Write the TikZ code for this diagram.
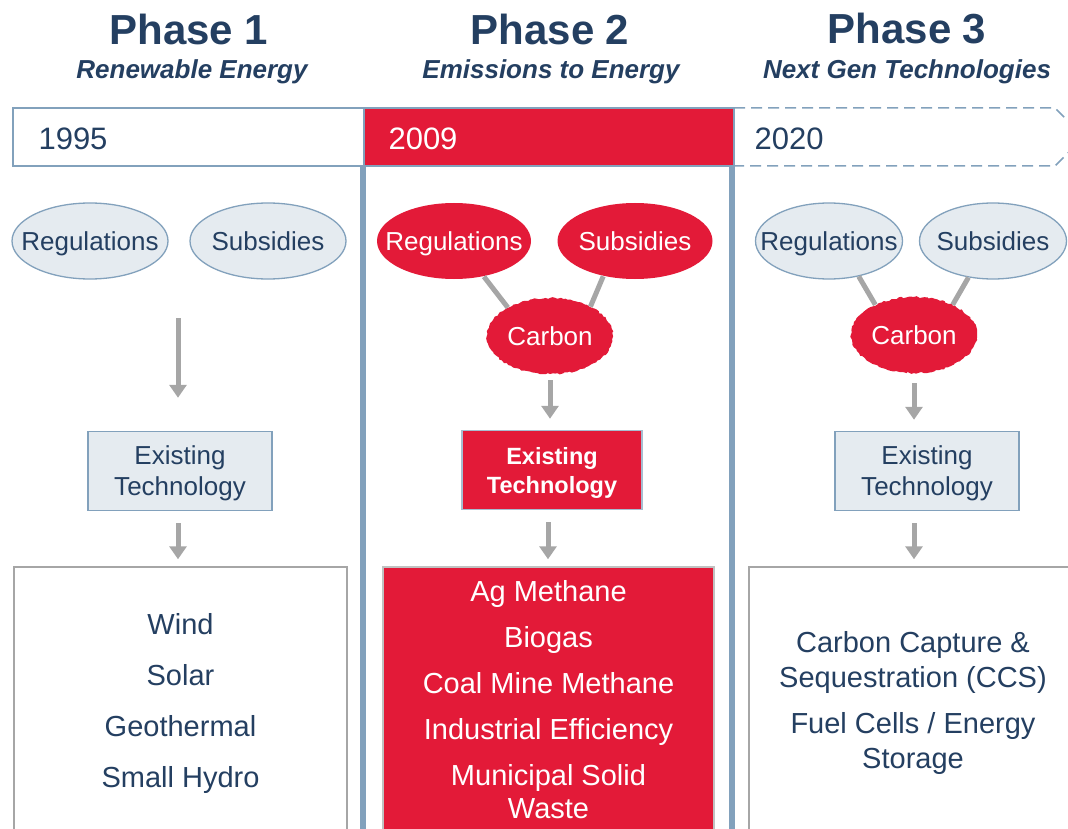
\documentclass[tikz,border=0pt]{standalone}
\usepackage{fontspec}
\setmainfont{Liberation Sans}
\usetikzlibrary{shapes.geometric,arrows.meta,decorations.pathmorphing}
\definecolor{navy}{RGB}{36,63,97}
\definecolor{pred}{RGB}{227,26,56}
\definecolor{steel}{RGB}{130,161,188}
\definecolor{pale}{RGB}{229,235,240}
\definecolor{agray}{RGB}{166,166,166}
\begin{document}
\begin{tikzpicture}[x=1pt,y=-1pt,
  oval/.style={ellipse,draw=steel,line width=1.3pt,fill=pale,text=navy,minimum width=156pt,minimum height=76pt,inner xsep=-20pt,inner ysep=0pt,text height=19pt,text depth=0pt,font=\fontsize{26}{30}\selectfont},
  roval/.style={oval,draw=none,fill=pred,text=white},
  carb/.style={ellipse,fill=pred,text=white,minimum width=126pt,minimum height=76pt,inner sep=0pt,text height=19pt,text depth=0pt,decorate,decoration={random steps,segment length=2.5pt,amplitude=0.9pt},font=\fontsize{26}{30}\selectfont},
  techbox/.style={rectangle,draw=steel,line width=1.5pt,fill=pale,text=navy,minimum width=184pt,minimum height=79pt,inner sep=0pt,align=center,text depth=0pt,font=\fontsize{26}{31}\selectfont},
  listbox/.style={rectangle,draw=agray,line width=1.5pt,fill=white,text=navy,minimum height=266pt,inner sep=0pt,align=center},
  garrow/.style={agray,line width=5pt,-{Triangle[width=17pt,length=13pt]}},
  link/.style={agray,line width=5pt},
  title/.style={text=navy,font=\fontsize{42}{48}\bfseries},
  subtitle/.style={text=navy,font=\fontsize{26}{30}\bfseries\itshape},
  year/.style={text=navy,anchor=west,font=\fontsize{31}{36}\selectfont}]

\useasboundingbox (0,0) rectangle (1068,829);
\clip (0,0) rectangle (1068,829);

\node[title] (p1) at (189,29) {Phase 1};
\node[title] (p2) at (550,29) {Phase 2};
\node[title] (p3) at (907,29) {Phase 3};
\node[subtitle] (s1) at (192,72) {Renewable Energy};
\node[subtitle] (s2) at (551,72) {Emissions to Energy};
\node[subtitle] (s3) at (907,72) {Next Gen Technologies};

\fill[steel] (360,166) rectangle (366,829);
\fill[steel] (729,166) rectangle (735,829);

\node[rectangle,draw=steel,line width=1.5pt,fill=white,minimum width=351pt,minimum height=58pt] (yr1) at (188.5,137) {};
\node[rectangle,draw=steel,line width=1.5pt,fill=pred,minimum width=370pt,minimum height=58pt] (yr2) at (549,137) {};
\draw[steel,line width=1.5pt,dash pattern=on 11pt off 6pt] (734,108) -- (1055,108) -- (1084,137) -- (1055,166) -- (734,166);
\node[year] (t1) at (35,139) {1995};
\node[year,text=white] (t2) at (385,139) {2009};
\node[year] (t3) at (751,139) {2020};

\node[oval] (reg1) at (90,241) {Regulations};
\node[oval] (sub1) at (268,241) {Subsidies};
\node[roval,minimum width=154pt] (reg2) at (454,241) {Regulations};
\node[roval,minimum width=155pt] (sub2) at (635,241) {Subsidies};
\node[oval,minimum width=147pt] (reg3) at (829,241) {Regulations};
\node[oval,minimum width=147pt] (sub3) at (993,241) {Subsidies};

\node[carb] (c2) at (550,336) {Carbon};
\node[carb] (c3) at (914,335) {Carbon};

\draw[link] (reg2.-50) -- (c2.146);
\draw[link] (sub2.-132) -- (c2.36);
\draw[link] (reg3.-50) -- (c3.142);
\draw[link] (sub3.-124) -- (c3.38);

\node[techbox] (tech1) at (180,471) {Existing\\Technology};
\node[techbox,fill=pred,draw=steel!70,text=white,minimum width=180pt,font=\fontsize{23.5}{29}\bfseries] (tech2) at (552,470) {Existing\\Technology};
\node[techbox] (tech3) at (927,471) {Existing\\Technology};

\coordinate (a1) at (178,318);
\draw[garrow] (a1) -- (a1 |- tech1.north) [shorten >=33pt];
\draw[garrow,shorten <=6pt,shorten >=11pt] (c2.south) -- (c2.south |- tech2.north);
\draw[garrow,shorten <=10pt,shorten >=11pt] (c3.south) -- (c3.south |- tech3.north);

\node[listbox,minimum width=333pt,text depth=0pt,font=\fontsize{29}{51}\selectfont] (list1) at (180.5,700) {Wind\\Solar\\Geothermal\\Small Hydro};
\node[listbox,fill=pred,draw=agray!70,text=white,minimum width=331pt,font=\fontsize{29}{33}\selectfont] (list2) at (548.5,700) {Ag Methane\\[13pt]Biogas\\[13pt]Coal Mine Methane\\[13pt]Industrial Efficiency\\[13pt]Municipal Solid\\Waste};
\node[listbox,minimum width=328pt,text depth=0pt,font=\fontsize{29}{35}\selectfont] (list3) at (913,700) {Carbon Capture \&\\Sequestration (CCS)\\[11pt]Fuel Cells / Energy\\Storage};

\draw[garrow,shorten <=12pt,shorten >=7pt] ([xshift=-2pt]tech1.south) -- ([xshift=-2pt]tech1.south |- list1.north);
\draw[garrow,shorten <=12pt,shorten >=7pt] ([xshift=-4pt]tech2.south) -- ([xshift=-4pt]tech2.south |- list2.north);
\draw[garrow,shorten <=12pt,shorten >=7pt] (c3.south |- tech3.south) -- (c3.south |- list3.north);
\end{tikzpicture}
\end{document}
